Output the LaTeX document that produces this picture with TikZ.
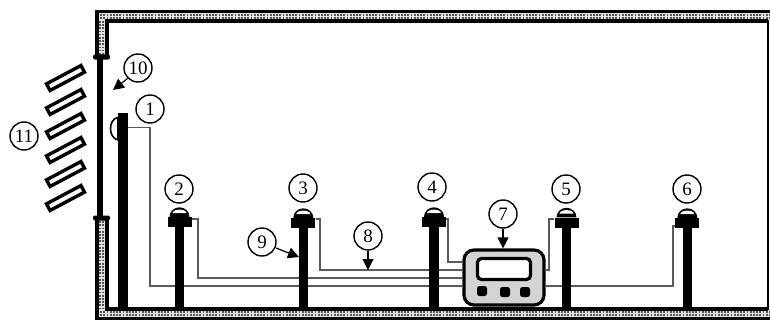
\documentclass[tikz,border=0pt]{standalone}
\usepackage{fontspec}
\setmainfont{Liberation Serif}
\usetikzlibrary{arrows.meta,backgrounds,calc}
\definecolor{wirecol}{HTML}{5A5A5A}
\definecolor{stripcol}{HTML}{E4E4E4}
\definecolor{beadcol}{HTML}{555555}
\definecolor{devcol}{HTML}{D4D4D4}
\tikzset{
  wall/.style={line width=3.6pt,draw=black,line join=miter},
  bead/.style={line width=1.7pt,draw=beadcol,dash pattern=on 1.7pt off 1.5pt},
  numc/.style={circle,draw=black,line width=1.4pt,fill=white,minimum size=28pt,inner sep=0pt,font=\fontsize{19}{19}\selectfont},
  polebar/.style={rectangle,fill=black,inner sep=0pt,anchor=south},
  head/.style={rectangle,fill=black,inner sep=0pt,minimum width=24pt,minimum height=10pt},
  louvre/.style={rectangle,draw=black,line width=3.4pt,fill=white,inner sep=0pt,minimum width=39pt,minimum height=7.5pt,rotate=28},
  capbar/.style={rectangle,rounded corners=2pt,fill=black,inner sep=0pt,minimum width=17pt,minimum height=5pt},
  wire/.style={draw=wirecol,line width=1.1pt},
  pointer/.style={draw=black,line width=1.2pt,-{Stealth[length=11pt,width=11pt,inset=0pt]}},
  btn/.style={rectangle,rounded corners=2.5pt,fill=black,inner sep=0pt,minimum size=10pt},
}
\begin{document}
\begin{tikzpicture}[x=1pt,y=-1pt]
\useasboundingbox (0,0) rectangle (770,321);
% wall fill
\fill[stripcol] (97,57) -- (97,11) -- (770,11) -- (770,21) -- (107,21) -- (107,57) -- cycle;
\fill[stripcol] (97,218) -- (97,319) -- (770,319) -- (770,309) -- (107,309) -- (107,218) -- cycle;
% beads
\foreach \r in {15.2,18.2}{\draw[bead] (97,\r) -- (770,\r);}
\foreach \r in {312.3,315.3}{\draw[bead] (97,\r) -- (770,\r);}
\foreach \c in {100.3,103.3}{
  \draw[bead] (\c,21) -- (\c,57);
  \draw[bead] (\c,218) -- (\c,309);
}
% wall outlines
\draw[wall] (96.7,57) -- (96.7,11.7) -- (770,11.7);
\draw[wall] (106.7,57) -- (106.7,21) -- (768,21);
\draw[wall] (96.7,218) -- (96.7,318.5) -- (770,318.5);
\draw[wall] (106.7,218) -- (106.7,308.7) -- (768,308.7);
\draw[line width=2pt] (768,20) -- (768,310);
% window
\node[capbar] (cap1) at (101.5,57) {};
\node[capbar] (cap2) at (101.5,218) {};
\draw[line width=5.5pt] ([xshift=-1.7pt]cap1.center) -- ([xshift=-1.7pt]cap2.center);
% louvres
\foreach \i/\y in {1/78,2/102,3/126,4/150,5/174,6/198}{
  \node[louvre] (lv\i) at (65.5,\y) {};
}
% pole 1 and its sensor
\draw[line width=1.6pt,fill=white] (118,117.5) .. controls (108,119) and (108,138) .. (118,140) -- cycle;
\node[polebar,minimum width=10.5pt,minimum height=194pt] (p1) at (122.8,307) {};
% poles and heads
\foreach \n/\x/\yh in {2/179.5/222,3/303.3/223,4/434/222,5/566.5/222.5,6/687.3/223}{
  \node[polebar,minimum width=9.5pt,minimum height={307-\yh}] (p\n) at (\x,307) {};
  \node[head] (s\n) at (\x,\yh) {};
  \fill[black] ($(s\n.north)+(-10,0)$) arc[start angle=180,end angle=0,x radius=10,y radius=-9.5] -- cycle;
  \fill[white] ($(s\n.north)+(-7,-3.6)$) arc[start angle=180,end angle=0,x radius=7,y radius=-3.6] -- cycle;
}
% device
\node[rectangle,draw=black,line width=3.2pt,fill=devcol,rounded corners=10pt,minimum width=80pt,minimum height=55pt,inner sep=0pt] (dev) at (504,277.5) {};
\node[rectangle,draw=black,line width=3.2pt,fill=white,rounded corners=4pt,minimum width=53pt,minimum height=21pt,inner sep=0pt] (scr) at (504,269) {};
\node[btn] (b1) at (482,291) {};
\node[btn] (b2) at (505,292) {};
\node[btn] (b3) at (525,292) {};
% wires behind everything
\begin{scope}[on background layer]
\coordinate (w1) at (127,127.5);
\draw[wire] (w1) -- (150,127.5) -- (150,286) -- (dev.west |- 0,286);
\draw[wire] (s2.east |- 0,219) -- (198,219) -- (198,278) -- (dev.west |- 0,278);
\draw[wire] (s3.east |- 0,219) -- (320,219) -- (320,270) -- (dev.west |- 0,270);
\draw[wire] (s4.east |- 0,219) -- (448,219) -- (448,262) -- (dev.west |- 0,262);
\draw[wire] (s5.west |- 0,219) -- (549,219) -- (549,270) -- (dev.east |- 0,270);
\draw[wire] (s6.west |- 0,226) -- (673,226) -- (673,286) -- (dev.east |- 0,286);
\end{scope}
% number circles
\node[numc] (c1) at (150,109) {1};
\node[numc] (c2) at (179,189) {2};
\node[numc] (c3) at (303,188) {3};
\node[numc] (c4) at (432,187) {4};
\node[numc] (c5) at (566,189) {5};
\node[numc] (c6) at (687,189) {6};
\node[numc] (c7) at (503,214) {7};
\node[numc] (c8) at (368,236) {8};
\node[numc] (c9) at (262,242) {9};
\node[numc] (c10) at (138,68) {10};
\node[numc] (c11) at (24,136) {11};
% pointers
\coordinate (t8) at (368,270);
\coordinate (t9) at (299,257);
\coordinate (t10) at (113,90);
\draw[pointer] (c7.south) -- (c7.south |- dev.north);
\draw[pointer] (c8.south) -- (t8);
\draw[pointer] (c9) ++(14,6) -- (t9);
\draw[pointer] (c10.south west) -- (t10);
\end{tikzpicture}
\end{document}
